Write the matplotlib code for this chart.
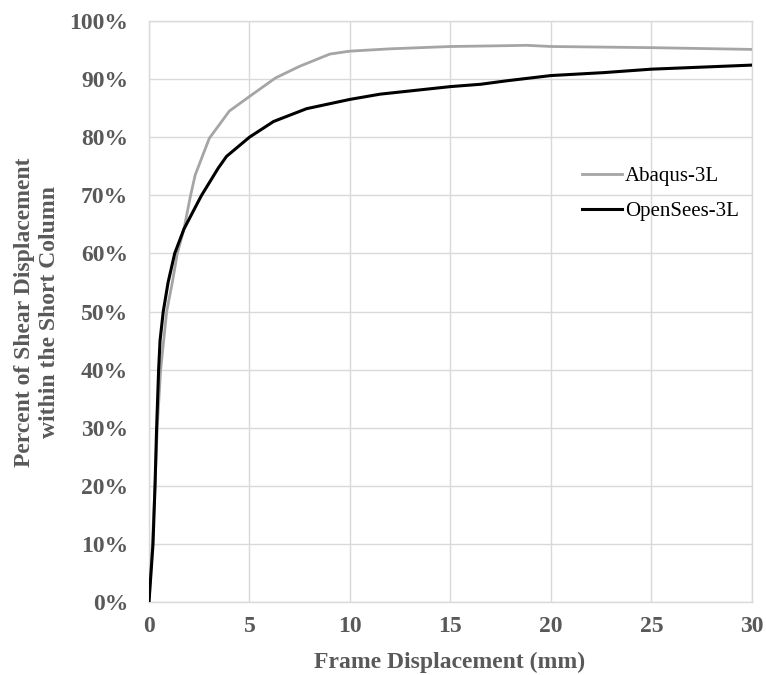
import matplotlib
matplotlib.use("Agg")
import matplotlib.pyplot as plt
from matplotlib.ticker import PercentFormatter

# frame displacement (mm) vs. share of shear displacement in the short column (%)
abaqus_x = [0, 0.17, 0.3, 0.41, 0.58, 0.88, 1.16, 1.41, 1.74, 2.07, 2.3, 3.0, 4.0,
            5.0, 6.3, 7.5, 9.0, 10.0, 12.0, 15.0, 17.0, 18.8, 20.0, 25.0, 30.0]
abaqus_y = [0, 10, 20, 30, 40, 50, 55, 60, 64.2, 70, 73.5, 79.8, 84.5,
            87.0, 90.2, 92.2, 94.3, 94.8, 95.2, 95.6, 95.7, 95.8, 95.6, 95.4, 95.1]

opensees_x = [0, 0.2, 0.3, 0.38, 0.48, 0.55, 0.71, 0.95, 1.28, 1.74, 2.6, 3.45,
              3.86, 5.0, 6.2, 7.84, 10.0, 11.5, 15.0, 16.5, 17.8, 20.0, 22.6, 25.0, 30.0]
opensees_y = [0, 10, 20, 30, 40, 45, 50, 55, 60, 64.2, 69.9, 74.7,
              76.7, 80.0, 82.7, 84.9, 86.5, 87.4, 88.7, 89.1, 89.7, 90.6, 91.1, 91.7, 92.4]

x_ticks = [0, 5, 10, 15, 20, 25, 30]
y_ticks = [0, 10, 20, 30, 40, 50, 60, 70, 80, 90, 100]

plt.rcParams['font.family'] = ['Liberation Serif', 'DejaVu Serif']

fig = plt.figure(figsize=(7.66, 6.75), dpi=100)
ax = fig.add_axes([0.1945, 0.108, 0.7872, 0.861])

grid_c = '#d9d9d9'
text_c = '#595959'

ax.plot(abaqus_x, abaqus_y, color='#a5a5a5', lw=2.0, label='Abaqus-3L', zorder=3)
ax.plot(opensees_x, opensees_y, color='black', lw=2.2, label='OpenSees-3L', zorder=4)

ax.set_xlim(0, 30)
ax.set_ylim(0, 100)
ax.set_xticks(x_ticks)
ax.set_yticks(y_ticks)
ax.yaxis.set_major_formatter(PercentFormatter(decimals=0))
ax.grid(True, color=grid_c, lw=1.0, zorder=0)
ax.set_axisbelow(True)
for side in ax.spines.values():
    side.set_color(grid_c)
    side.set_linewidth(1.0)
ax.tick_params(length=0, labelsize=17, colors=text_c)
ax.tick_params(axis='x', pad=10)
ax.tick_params(axis='y', pad=15)
for lbl in ax.get_xticklabels() + ax.get_yticklabels():
    lbl.set_fontweight('bold')

# axis titles placed directly in figure coordinates
fig.text(450 / 766, 1 - 662 / 675, 'Frame Displacement (mm)', fontsize=17,
         fontweight='bold', color=text_c, ha='center', va='center')
fig.text(37.5 / 766, 1 - 312 / 675, 'Percent of Shear Displacement\nwithin the Short Column',
         fontsize=17, fontweight='bold', color=text_c, ha='center', va='center',
         rotation=90, multialignment='center', linespacing=1.25)

leg = ax.legend(loc='upper left', bbox_to_anchor=(0.718, 0.750), frameon=False,
                fontsize=15, handlelength=1.9, handletextpad=0.15, labelspacing=0.74,
                borderpad=0, borderaxespad=0)

fig.savefig('out.png', dpi=100)
